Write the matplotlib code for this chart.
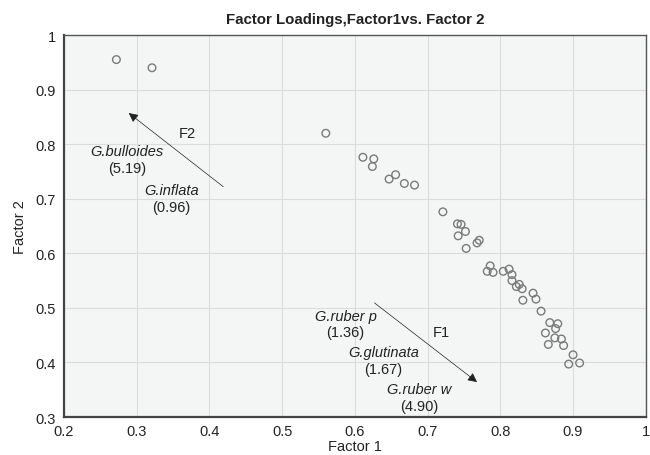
import matplotlib
matplotlib.use("Agg")
import matplotlib.pyplot as plt

plt.rcParams['font.family'] = ['Liberation Sans', 'DejaVu Sans']

# factor loadings
factor1 = [0.272, 0.321, 0.560,
           0.611, 0.626, 0.624, 0.647, 0.656, 0.668, 0.682,
           0.721, 0.741, 0.746, 0.752, 0.742, 0.753, 0.768, 0.771,
           0.786, 0.782, 0.790, 0.804, 0.812, 0.816, 0.816, 0.826, 0.822,
           0.830, 0.831, 0.845, 0.849, 0.856, 0.868, 0.879, 0.876, 0.862,
           0.875, 0.884, 0.866, 0.887, 0.900, 0.894, 0.909]
factor2 = [0.955, 0.940, 0.820,
           0.776, 0.773, 0.759, 0.736, 0.744, 0.728, 0.725,
           0.676, 0.654, 0.653, 0.640, 0.632, 0.609, 0.619, 0.624,
           0.577, 0.567, 0.565, 0.567, 0.571, 0.561, 0.550, 0.543, 0.539,
           0.535, 0.514, 0.527, 0.516, 0.494, 0.473, 0.471, 0.462, 0.454,
           0.445, 0.443, 0.433, 0.431, 0.414, 0.397, 0.399]

# species labels (name, score, x, y)
species = [("G.bulloides", "(5.19)", 0.287, 0.787),
           ("G.inflata", "(0.96)", 0.348, 0.716),
           ("G.ruber p", "(1.36)", 0.587, 0.486),
           ("G.glutinata", "(1.67)", 0.639, 0.419),
           ("G.ruber w", "(4.90)", 0.689, 0.352)]

# direction arrows (label, tail, head, label position)
arrows = [("F2", (0.419, 0.722), (0.289, 0.857), (0.370, 0.820)),
          ("F1", (0.627, 0.509), (0.768, 0.364), (0.719, 0.456))]

fig = plt.figure(figsize=(6.5, 4.56), dpi=100)
ax = fig.add_axes([0.0985, 0.0833, 0.895, 0.8377])
ax.set_facecolor('#f4f5f5')

ax.scatter(factor1, factor2, s=30, facecolors='none', edgecolors='#7a7a7a',
           linewidths=1.0, zorder=3)

for name, tail, head, lpos in arrows:
    ax.annotate("", xy=head, xytext=tail,
                arrowprops=dict(arrowstyle='-|>', color='#222222', lw=0.5,
                                mutation_scale=14, shrinkA=0, shrinkB=0))
    ax.text(lpos[0], lpos[1], name, fontsize=10.5, ha='center', va='center',
            color='#222222')

for name, score, x, y in species:
    ax.text(x, y, name, fontsize=10.5, style='italic', ha='center',
            va='center', color='#222222')
    ax.text(x, y - 0.031, score, fontsize=10.5, ha='center', va='center',
            color='#222222')

ax.set_xlim(0.2, 1)
ax.set_ylim(0.3, 1)
ax.set_xticks([0.2, 0.3, 0.4, 0.5, 0.6, 0.7, 0.8, 0.9, 1])
ax.set_xticklabels(["0.2", "0.3", "0.4", "0.5", "0.6", "0.7", "0.8", "0.9", "1"])
ax.set_yticks([0.3, 0.4, 0.5, 0.6, 0.7, 0.8, 0.9, 1])
ax.set_yticklabels(["0.3", "0.4", "0.5", "0.6", "0.7", "0.8", "0.9", "1"])
ax.tick_params(length=0, labelsize=10.5, colors='#222222')
ax.tick_params(axis='x', pad=5)
ax.tick_params(axis='y', pad=6)
ax.grid(True, color='#dcdcdc', lw=0.8)
ax.set_axisbelow(True)
for side in ['left', 'bottom']:
    ax.spines[side].set_color('#444444')
    ax.spines[side].set_linewidth(1.6)
for side in ['top', 'right']:
    ax.spines[side].set_color('#555555')
    ax.spines[side].set_linewidth(1.0)

ax.set_xlabel("Factor 1", fontsize=10.5, color='#222222', labelpad=1)
ax.set_ylabel("Factor 2", fontsize=10.5, color='#222222', labelpad=6)
ax.set_title("Factor Loadings,Factor1vs. Factor 2", fontsize=10.8, weight='bold',
             color='#222222', pad=9)

fig.savefig("out.png", dpi=100)
